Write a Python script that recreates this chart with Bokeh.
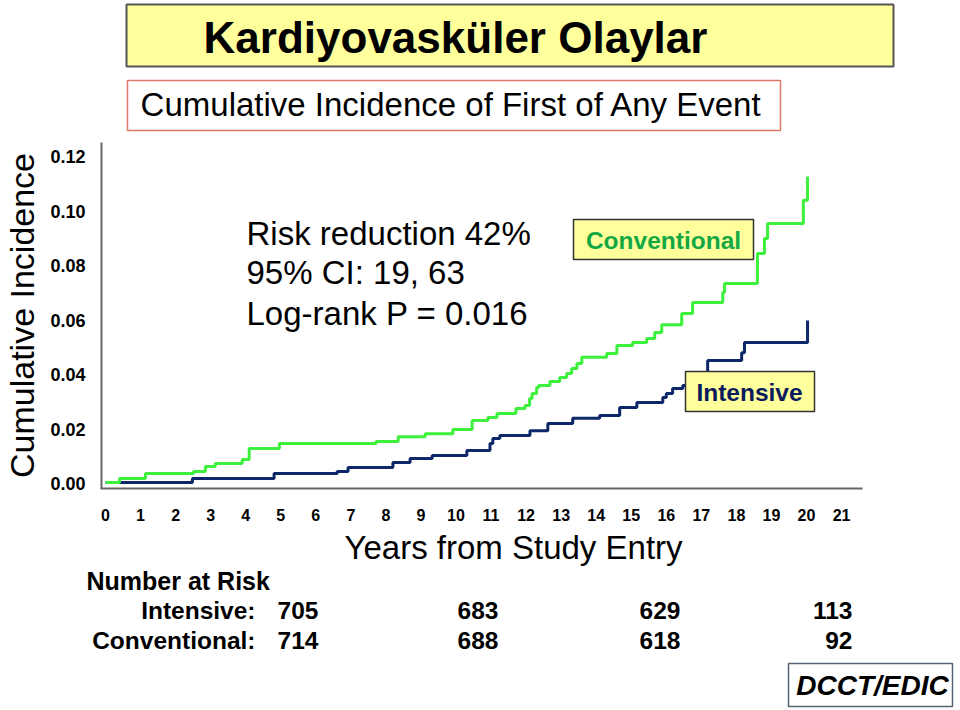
from bokeh.plotting import figure
from bokeh.models import Range1d, FixedTicker, NumeralTickFormatter
from bokeh.embed import file_html
from bokeh.resources import INLINE
from bokeh.core.properties import value

# ---------------- data ----------------
title_text = "Kardiyovasküler Olaylar"
subtitle_text = "Cumulative Incidence of First of Any Event"
y_axis_title = "Cumulative Incidence"
x_axis_title = "Years from Study Entry"

x_ticks = list(range(0, 22))
y_ticks = [0.00, 0.02, 0.04, 0.06, 0.08, 0.10, 0.12]

conv_years = [0, 0.40, 1.14, 2.51, 2.85, 3.13, 3.90, 4.10, 4.96, 7.72, 8.35, 9.12,
              9.91, 10.46, 10.91, 11.17, 11.71, 11.97, 12.10, 12.17, 12.30, 12.36,
              12.68, 12.96, 13.16, 13.30, 13.45, 13.59, 14.30, 14.59, 15.04, 15.44,
              15.67, 15.87, 16.44, 16.75, 17.61, 17.66, 18.60, 18.80, 18.89, 19.91, 20.03]
conv_inc = [0.0004, 0.0018, 0.0037, 0.0044, 0.0062, 0.0073, 0.0088, 0.0128, 0.0147,
            0.0154, 0.0172, 0.0183, 0.0198, 0.0231, 0.0242, 0.0257, 0.0275, 0.0286,
            0.0312, 0.0330, 0.0352, 0.0360, 0.0374, 0.0389, 0.0404, 0.0422, 0.0440,
            0.0463, 0.0477, 0.0506, 0.0517, 0.0532, 0.0554, 0.0583, 0.0624, 0.0664,
            0.0701, 0.0734, 0.0844, 0.0899, 0.0954, 0.1039, 0.1127]

int_years = [0, 2.48, 4.81, 6.61, 6.92, 8.20, 8.69, 9.32, 10.31, 10.97, 11.05, 11.25,
             12.11, 12.62, 13.33, 14.10, 14.67, 15.16, 15.90, 16.00, 16.18, 16.47,
             17.18, 18.15, 18.23, 20.03]
int_inc = [0.0004, 0.0018, 0.0037, 0.0044, 0.0059, 0.0077, 0.0092, 0.0103, 0.0121,
           0.0147, 0.0165, 0.0176, 0.0194, 0.0220, 0.0239, 0.0250, 0.0279, 0.0297,
           0.0316, 0.0330, 0.0349, 0.0360, 0.0451, 0.0480, 0.0517, 0.0598]

stats_lines = ["Risk reduction 42%", "95% CI: 19, 63", "Log-rank P = 0.016"]

risk_header = "Number at Risk"
risk_groups = ["Intensive:", "Conventional:"]
risk_intensive = [705, 683, 629, 113]
risk_conventional = [714, 688, 618, 92]
source_text = "DCCT/EDIC"

# ---------------- layout helpers (page pixels -> data units) ----------------
W, H = 960, 710
X0, XS = 105.0, 35.05     # page x of year 0, pixels per year
Y0, YS = 483.0, 2725.0    # page y of incidence 0, pixels per unit


def dx(px):
    return (px - X0) / XS


def dy(py):
    return (Y0 - py) / YS


FONT = value("Liberation Sans")
GREEN = "#3cf03c"
NAVY = "#0c2868"
YELLOW = "#ffff9c"

p = figure(width=W, height=H, x_range=Range1d(dx(0), dx(W)),
           y_range=Range1d(dy(H), dy(0)), output_backend="svg",
           toolbar_location=None, min_border=0, outline_line_color=None, title=None)
p.xgrid.grid_line_color = None
p.ygrid.grid_line_color = None

xa = p.xaxis[0]
ya = p.yaxis[0]
for ax in (xa, ya):
    ax.major_tick_line_color = None
    ax.minor_tick_line_color = None
    ax.major_label_text_font = "Liberation Sans"
    ax.major_label_text_font_style = "bold"
    ax.major_label_text_color = "black"
    ax.axis_label_text_font = "Liberation Sans"
    ax.axis_label_text_font_style = "normal"
    ax.axis_label_text_color = "black"

xa.fixed_location = dy(488)
xa.ticker = FixedTicker(ticks=x_ticks)
xa.bounds = (dx(101), dx(925))
xa.axis_line_color = None
xa.major_label_text_font_size = "16px"
xa.major_label_standoff = 14
xa.axis_label = x_axis_title
xa.axis_label_text_font_size = "33px"
xa.axis_label_standoff = 5

ya.fixed_location = dx(101)
ya.ticker = FixedTicker(ticks=y_ticks)
ya.formatter = NumeralTickFormatter(format="0.00")
ya.bounds = (dy(488), dy(142))
ya.axis_line_color = "#666666"
ya.axis_line_width = 2
ya.major_label_text_font_size = "18px"
ya.major_label_standoff = 10
ya.axis_label = y_axis_title
ya.axis_label_text_font_size = "34px"
ya.axis_label_standoff = 6

# bottom axis line (ends where the reference line fades)
p.segment(x0=[dx(100)], y0=[dy(488)], x1=[dx(862)], y1=[dy(488)],
          line_color="#666666", line_width=2)

# ---------------- curves ----------------
p.step(int_years, int_inc, mode="after", line_color=NAVY, line_width=3)
p.step(conv_years, conv_inc, mode="after", line_color=GREEN, line_width=3)

# ---------------- title strip ----------------
p.quad(left=[dx(126)], right=[dx(893)], top=[dy(4)], bottom=[dy(66)],
       fill_color=YELLOW, line_color="#555555", line_width=2)
p.text(x=[dx(455)], y=[dy(37)], text=[title_text], text_font=FONT,
       text_font_style="bold", text_font_size="44px", text_align="center",
       text_baseline="middle", text_color="black")
p.quad(left=[dx(127)], right=[dx(780)], top=[dy(80)], bottom=[dy(130)],
       fill_color="white", line_color="#e07a68", line_width=1.5)
p.text(x=[dx(451)], y=[dy(104)], text=[subtitle_text], text_font=FONT,
       text_font_size="33px", text_align="center", text_baseline="middle",
       text_color="black")

# ---------------- in-plot annotations ----------------
p.text(x=[dx(246)] * 3, y=[dy(233), dy(272), dy(313)], text=stats_lines, text_font=FONT,
       text_font_size="33px", text_align="left", text_baseline="middle",
       text_color="black")

p.quad(left=[dx(573)], right=[dx(753)], top=[dy(219)], bottom=[dy(259)],
       fill_color=YELLOW, line_color="#333333", line_width=1.5)
p.text(x=[dx(663)], y=[dy(240)], text=["Conventional"], text_font=FONT,
       text_font_style="bold", text_font_size="24.5px", text_align="center",
       text_baseline="middle", text_color="#14a844")
p.quad(left=[dx(685)], right=[dx(814)], top=[dy(371)], bottom=[dy(411)],
       fill_color=YELLOW, line_color="#333333", line_width=1.5)
p.text(x=[dx(749)], y=[dy(392)], text=["Intensive"], text_font=FONT,
       text_font_style="bold", text_font_size="24.5px", text_align="center",
       text_baseline="middle", text_color="#0a1a5c")

# ---------------- number at risk table ----------------
col_px = [318, 498, 680, 852]
row_py = [610, 640]
p.text(x=[dx(86)], y=[dy(580)], text=[risk_header], text_font=FONT,
       text_font_style="bold", text_font_size="25px", text_align="left",
       text_baseline="middle", text_color="black")
p.text(x=[dx(255)] * 2, y=[dy(v) for v in row_py], text=risk_groups, text_font=FONT,
       text_font_style="bold", text_font_size="24.5px", text_align="right",
       text_baseline="middle", text_color="black")
for vals, py in ((risk_intensive, row_py[0]), (risk_conventional, row_py[1])):
    p.text(x=[dx(c) for c in col_px], y=[dy(py)] * len(vals),
           text=[str(v) for v in vals], text_font=FONT, text_font_style="bold",
           text_font_size="24.5px", text_align="right", text_baseline="middle",
           text_color="black")

p.quad(left=[dx(788)], right=[dx(952)], top=[dy(663)], bottom=[dy(706)],
       fill_color="white", line_color="#556070", line_width=1.5)
p.text(x=[dx(872)], y=[dy(685)], text=[source_text], text_font=FONT,
       text_font_style="bold italic", text_font_size="28px", text_align="center",
       text_baseline="middle", text_color="black")

open("out.html", "w").write(file_html(p, INLINE))
